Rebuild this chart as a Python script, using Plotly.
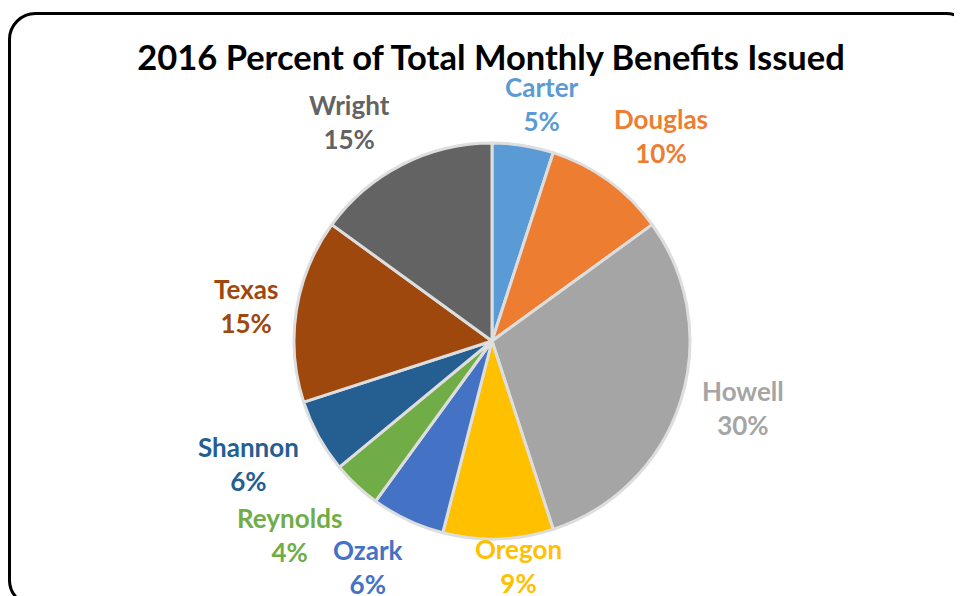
import math
import plotly.graph_objects as go

# data (percent of total monthly benefits, 2016)
counties = ["Carter", "Douglas", "Howell", "Oregon", "Ozark",
            "Reynolds", "Shannon", "Texas", "Wright"]
percents = [5, 10, 30, 9, 6, 4, 6, 15, 15]
colors = ["#5B9BD5", "#ED7D31", "#A5A5A5", "#FFC000", "#4472C4",
          "#70AD47", "#255E91", "#9E480E", "#636363"]

# label placement: distance from centre (px) and small angle nudge (deg)
label_dist = [242, 266, 260, 227, 258, 281, 273, 248, 261]
label_nudge = [3, 3.5, -3, -5, 3.5, 3, 2, -1, -6]

OFF = 8  # page body margin
W, H = 962 - OFF, 596 - OFF  # figure fits the window exactly
cx, cy, R = 492 - OFF, 341 - OFF, 198

fig = go.Figure(go.Pie(
    labels=counties,
    values=percents,
    sort=False,
    direction="clockwise",
    rotation=0,
    marker=dict(colors=colors, line=dict(color="#DEDEDE", width=3)),
    textinfo="none",
    hoverinfo="label+percent",
    domain=dict(x=[(cx - R) / W, (cx + R) / W], y=[1 - (cy + R) / H, 1 - (cy - R) / H]),
    showlegend=False,
))

# labels outside the slices, coloured like the slice
total = sum(percents)
cum = 0
annotations = []
for name, v, col, d, nud in zip(counties, percents, colors, label_dist, label_nudge):
    mid = (cum + v / 2) / total * 360 + nud
    cum += v
    a = math.radians(mid)
    px = cx + d * math.sin(a)
    py = cy - d * math.cos(a)
    annotations.append(dict(
        x=px / W, y=1 - py / H, xref="paper", yref="paper",
        text=f"<b>{name}<br>{v}%</b>", showarrow=False,
        font=dict(size=26, color=col, family="Lato, sans-serif"),
        xanchor="center", yanchor="middle", align="center",
    ))

# rounded frame: only left, top and the two visible corners (rest is off page)
x0, x1, yt, yb, r = 9.5 - OFF, 972 - OFF, 13.5 - OFF, 606 - OFF, 26
k = 0.55 * r


def P(x, y):
    return f"{x / W:.5f},{1 - y / H:.5f}"


frame = (f"M {P(x0 + r + 40, yb)} L {P(x0 + r, yb)} "
         f"C {P(x0 + r - k, yb)} {P(x0, yb - r + k)} {P(x0, yb - r)} "
         f"L {P(x0, yt + r)} "
         f"C {P(x0, yt + r - k)} {P(x0 + r - k, yt)} {P(x0 + r, yt)} "
         f"L {P(x1 - r, yt)} "
         f"C {P(x1 - r + k, yt)} {P(x1, yt + r - k)} {P(x1, yt + r)}")

fig.update_layout(
    width=W, height=H,
    margin=dict(l=0, r=0, t=0, b=0),
    paper_bgcolor="white",
    title=dict(
        text="<b>2016 Percent of Total Monthly Benefits Issued</b>",
        x=(491 - OFF) / W, xanchor="center", y=1 - (58 - OFF) / H, yanchor="middle",
        yref="container",
        font=dict(size=34.5, color="#000000", family="Lato, sans-serif"),
    ),
    annotations=annotations,
    shapes=[dict(type="path", xref="paper", yref="paper", path=frame,
                 line=dict(color="black", width=3), layer="above")],
)

fig.write_html("out.html")
